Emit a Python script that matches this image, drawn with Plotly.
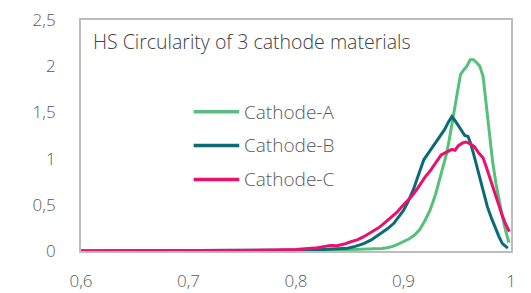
import plotly.graph_objects as go

# ---- data ----
x_a = [0.600, 0.700, 0.800, 0.830, 0.840, 0.850, 0.860, 0.870, 0.880, 0.885, 0.890, 0.895,
       0.900, 0.905, 0.910, 0.915, 0.920, 0.925, 0.930, 0.935, 0.940, 0.9425, 0.945, 0.950,
       0.953, 0.956, 0.959, 0.962, 0.965, 0.968, 0.971, 0.974, 0.977, 0.980, 0.983, 0.986,
       0.989, 0.992, 0.995, 0.998]
y_a = [0.0, 0.0, 0.003, 0.008, 0.012, 0.015, 0.018, 0.022, 0.028, 0.035, 0.05, 0.075,
       0.10, 0.13, 0.17, 0.23, 0.33, 0.45, 0.62, 0.85, 1.05, 1.20, 1.38, 1.72,
       1.91, 1.96, 2.00, 2.07, 2.07, 2.04, 2.00, 1.89, 1.58, 1.22, 0.96, 0.73,
       0.54, 0.37, 0.22, 0.09]

x_b = [0.600, 0.700, 0.780, 0.800, 0.810, 0.820, 0.830, 0.840, 0.848, 0.855, 0.863, 0.870,
       0.875, 0.879, 0.885, 0.891, 0.895, 0.900, 0.905, 0.910, 0.915, 0.919, 0.922, 0.926,
       0.930, 0.934, 0.938, 0.942, 0.945, 0.948, 0.951, 0.954, 0.957, 0.960, 0.962, 0.965,
       0.968, 0.972, 0.975, 0.978, 0.982, 0.986, 0.989, 0.992, 0.995, 0.997]
y_b = [0.0, 0.001, 0.004, 0.006, 0.01, 0.013, 0.018, 0.025, 0.03, 0.05, 0.08, 0.12,
       0.16, 0.19, 0.24, 0.30, 0.36, 0.44, 0.55, 0.69, 0.86, 0.99, 1.04, 1.11,
       1.18, 1.25, 1.31, 1.40, 1.455, 1.41, 1.36, 1.31, 1.25, 1.24, 1.18, 1.06,
       0.93, 0.73, 0.60, 0.48, 0.35, 0.23, 0.15, 0.08, 0.05, 0.03]

x_c = [0.600, 0.650, 0.700, 0.750, 0.780, 0.800, 0.810, 0.820, 0.827, 0.832, 0.838, 0.845,
       0.851, 0.857, 0.863, 0.870, 0.876, 0.880, 0.885, 0.890, 0.894, 0.900, 0.907, 0.912,
       0.916, 0.920, 0.925, 0.930, 0.935, 0.940, 0.945, 0.948, 0.951, 0.955, 0.958, 0.962,
       0.966, 0.970, 0.974, 0.977, 0.980, 0.983, 0.986, 0.989, 0.992, 0.995, 0.9985]
y_c = [0.0, 0.001, 0.003, 0.006, 0.01, 0.015, 0.022, 0.035, 0.05, 0.06, 0.058, 0.075,
       0.10, 0.12, 0.155, 0.20, 0.245, 0.28, 0.33, 0.37, 0.42, 0.50, 0.585, 0.66,
       0.73, 0.80, 0.87, 0.96, 1.04, 1.07, 1.10, 1.09, 1.14, 1.17, 1.18, 1.16,
       1.13, 1.06, 1.01, 0.91, 0.80, 0.69, 0.58, 0.48, 0.38, 0.29, 0.21]

series_names = ["Cathode-A", "Cathode-B", "Cathode-C"]
series_colors = ["#55c07a", "#0a6b74", "#ea106c"]
x_tick_vals = [0.6, 0.7, 0.8, 0.9, 1.0]
x_tick_text = ["0,6", "0,7", "0,8", "0,9", "1"]
y_tick_vals = [0, 0.5, 1, 1.5, 2, 2.5]
y_tick_text = ["0", "0,5", "1", "1,5", "2", "2,5"]
title_text = "HS Circularity of 3 cathode materials"

FONT = "Open Sans"
TXT = "#595959"

fig = go.Figure()
for xs, ys, name, col in zip([x_a, x_b, x_c], [y_a, y_b, y_c], series_names, series_colors):
    fig.add_trace(go.Scatter(x=xs, y=ys, mode="lines", name=name,
                             line=dict(color=col, width=3), showlegend=False))

# manual legend (line sample + label)
leg_y = [0.603, 0.457, 0.310]
for name, col, yy in zip(series_names, series_colors, leg_y):
    fig.add_shape(type="line", xref="paper", yref="paper", x0=0.262, x1=0.368, y0=yy, y1=yy,
                  line=dict(color=col, width=3.5))
    fig.add_annotation(xref="paper", yref="paper", x=0.374, y=yy, text=name, showarrow=False,
                       xanchor="left", yanchor="middle",
                       font=dict(family=FONT, size=19, color=TXT, weight=300))

fig.add_annotation(xref="paper", yref="paper", x=0.024, y=0.905, text=title_text, showarrow=False,
                   xanchor="left", yanchor="middle",
                   font=dict(family=FONT, size=19.5, color="#404040", weight=300))

fig.update_layout(
    width=531, height=293,
    margin=dict(l=81, r=20, t=20, b=42),
    paper_bgcolor="white", plot_bgcolor="white",
    font=dict(family=FONT, color=TXT),
)
fig.update_xaxes(range=[0.6, 1.0], tickvals=x_tick_vals, ticktext=x_tick_text,
                 automargin=False,
                 showgrid=False, zeroline=False, showline=True, mirror=True,
                 linecolor="#bdbdbd", linewidth=2, ticks="outside", ticklen=14,
                 tickcolor="rgba(0,0,0,0)",
                 tickfont=dict(family=FONT, size=17, color=TXT, weight=300))
fig.update_yaxes(range=[0, 2.5], tickvals=y_tick_vals, ticktext=y_tick_text,
                 automargin=False,
                 showgrid=False, zeroline=False, showline=True, mirror=True,
                 linecolor="#bdbdbd", linewidth=2, ticks="outside", ticklen=20,
                 tickcolor="rgba(0,0,0,0)",
                 tickfont=dict(family=FONT, size=17, color=TXT, weight=300))

fig.write_html("out.html",
               config={"displayModeBar": False},
               post_script="document.body.style.margin='0';document.body.style.overflow='hidden';")
